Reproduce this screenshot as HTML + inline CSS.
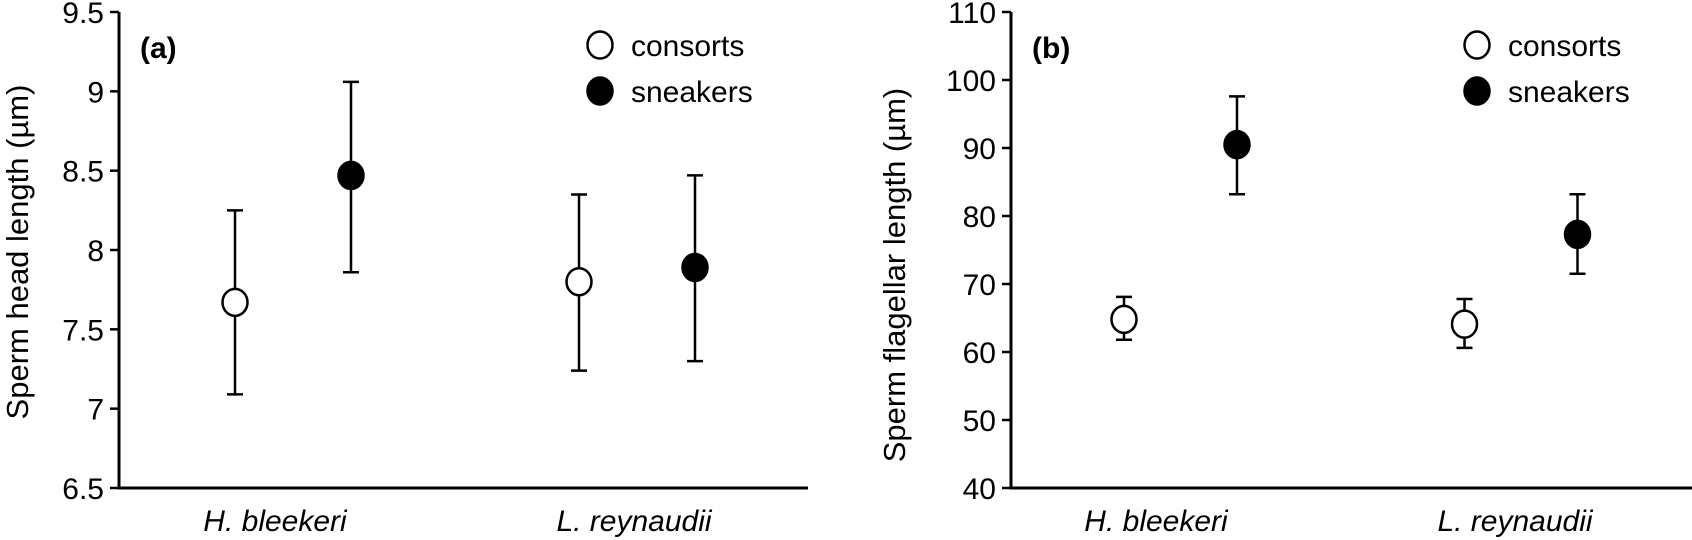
<!DOCTYPE html>
<html><head><meta charset="utf-8"><style>
html,body{margin:0;padding:0;background:#fff;}
svg{display:block;font-family:"Liberation Sans",Arial,sans-serif;}
</style></head><body>
<svg id="fig" width="1692" height="540" viewBox="0 0 1692 540" xmlns="http://www.w3.org/2000/svg"></svg>
<script>
const categories = ["H. bleekeri", "L. reynaudii"];
const seriesNames = ["consorts", "sneakers"];
const headMean = [[7.67, 7.80], [8.47, 7.89]];
const headLow = [[7.09, 7.24], [7.86, 7.30]];
const headHigh = [[8.25, 8.35], [9.06, 8.47]];
const flagMean = [[64.8, 64.1], [90.5, 77.3]];
const flagLow = [[61.8, 60.6], [83.2, 71.5]];
const flagHigh = [[68.1, 67.8], [97.6, 83.2]];
const headTicks = ["6.5", "7", "7.5", "8", "8.5", "9", "9.5"];
const flagTicks = ["40", "50", "60", "70", "80", "90", "100", "110"];

const NS = "http://www.w3.org/2000/svg";
const svg = document.getElementById("fig");
function mk(tag, attrs, parent) {
  const e = document.createElementNS(NS, tag);
  for (const k in attrs) e.setAttribute(k, attrs[k]);
  (parent || svg).appendChild(e);
  return e;
}

function panel(cfg) {
  const g = mk("g", {});
  
  
  const ticks = cfg.ticks.map(Number);
  const vmin = ticks[0], vmax = ticks[ticks.length - 1];
  const y = v => cfg.yBottom - (v - vmin) / (vmax - vmin) * (cfg.yBottom - cfg.yTop);
  const x = (ci, si) => cfg.catX[ci] + cfg.offX[si];

  const yAxis = mk("line", {x1: cfg.axisX, y1: cfg.yTop, x2: cfg.axisX, y2: cfg.yBottom + 1.5, stroke: "#000", "stroke-width": 3}, g);
  
  
  const xAxis = mk("line", {x1: cfg.axisX, y1: cfg.yBottom, x2: cfg.xEnd, y2: cfg.yBottom, stroke: "#000", "stroke-width": 3}, g);
  
  

  cfg.ticks.forEach(t => {
    const yy = y(Number(t));
    const tk = mk("line", {x1: cfg.axisX - 9, y1: yy, x2: cfg.axisX, y2: yy, stroke: "#000", "stroke-width": 2.5}, g);
    
    
    const tl = mk("text", {x: cfg.axisX - 15, y: yy + 11, "text-anchor": "end", "font-size": 30}, g);
    tl.textContent = t;
    
    
  });

  categories.forEach((c, ci) => {
    const cl = mk("text", {x: cfg.labelX[ci], y: 531, "text-anchor": "middle", "font-size": 30, "font-style": "italic"}, g);
    cl.textContent = c;
    
    
  });

  const yt = mk("text", {x: 0, y: 0, "text-anchor": "middle", "font-size": 31, transform: `translate(${cfg.titleX},${cfg.titleY}) rotate(-90)`}, g);
  yt.textContent = cfg.title;
  
  

  const pl = mk("text", {x: cfg.axisX + 21, y: 58, "font-size": 30, "font-weight": "bold"}, g);
  pl.textContent = cfg.label;
  
  

  seriesNames.forEach((s, si) => {
    categories.forEach((c, ci) => {
      const xx = x(ci, si);
      const yl = y(cfg.low[si][ci]), yh = y(cfg.high[si][ci]), ym = y(cfg.mean[si][ci]);
      const eb = mk("path", {d: `M${xx},${yl}V${yh}M${xx - 8},${yl}H${xx + 8}M${xx - 8},${yh}H${xx + 8}`, stroke: "#000", "stroke-width": 2.5, fill: "none"}, g);
      
      
      const pt = mk("ellipse", {cx: xx, cy: ym, rx: 12.5, ry: 13.5, fill: si ? "#000" : "#fff", stroke: "#000", "stroke-width": 2.5}, g);
      
      
    });
    const ly = 45 + si * 46;
    const lm = mk("ellipse", {cx: cfg.legX, cy: ly, rx: 12.5, ry: 13.5, fill: si ? "#000" : "#fff", stroke: "#000", "stroke-width": 2.5}, g);
    
    
    const lt = mk("text", {x: cfg.legX + 31, y: ly + 11, "font-size": 30}, g);
    lt.textContent = s;
    
    
  });
}

panel({name: "panel-a", ticks: headTicks, mean: headMean, low: headLow, high: headHigh,
  axisX: 119, xEnd: 808, yTop: 12, yBottom: 488, catX: [293, 637], offX: [-58, 58],
  labelX: [275, 634], title: "Sperm head length (µm)", titleX: 28, titleY: 252, label: "(a)", legX: 600});
panel({name: "panel-b", ticks: flagTicks, mean: flagMean, low: flagLow, high: flagHigh,
  axisX: 1011, xEnd: 1692, yTop: 12, yBottom: 488, catX: [1180.5, 1521], offX: [-56.5, 56.5],
  labelX: [1156, 1515], title: "Sperm flagellar length (µm)", titleX: 905, titleY: 275, label: "(b)", legX: 1477});
</script>
</body></html>
